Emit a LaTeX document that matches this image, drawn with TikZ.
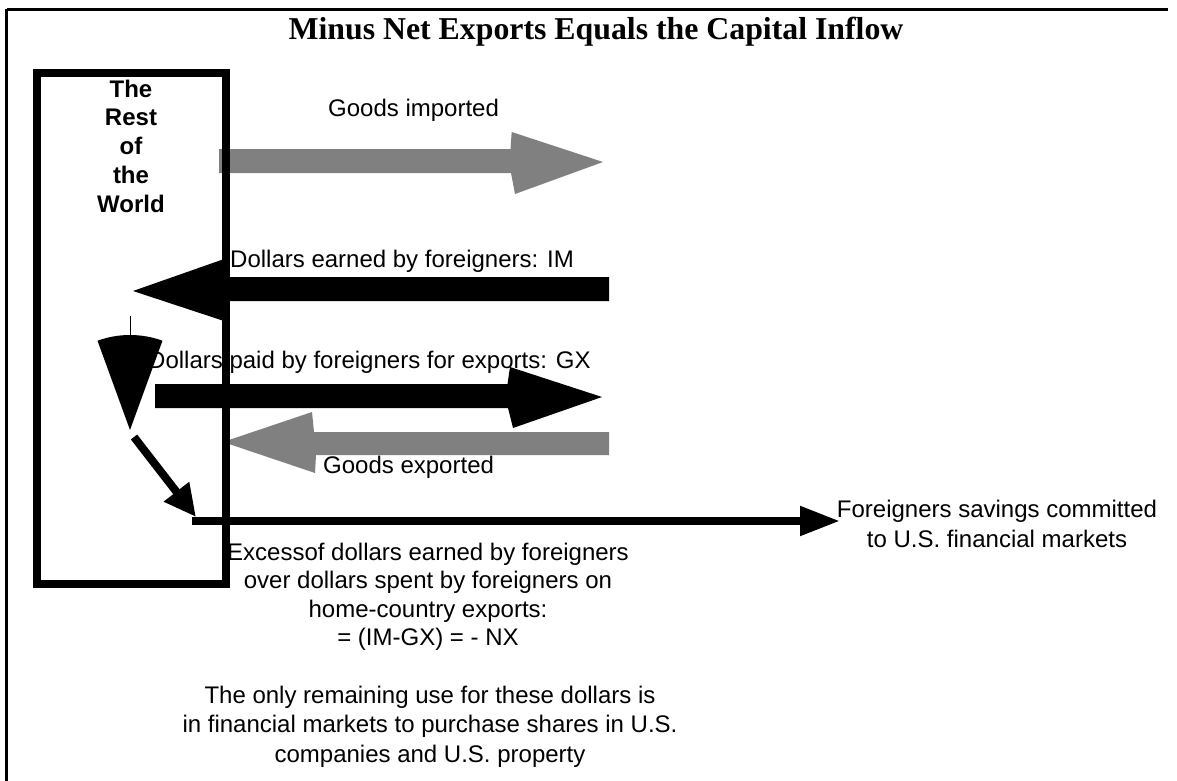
\documentclass[tikz,border=0pt]{standalone}
\usepackage{fontspec}
\setmainfont{Liberation Sans}
\newfontfamily\titlefont{Liberation Serif}
\usetikzlibrary{arrows.meta}
\definecolor{flowgrey}{HTML}{808080}
\tikzset{
  lbl/.style={inner sep=0pt, font=\fontsize{24}{28.8}\selectfont},
  blocklbl/.style={inner sep=0pt, align=center, anchor=base},
  goodsflow/.style={fill=flowgrey},
  moneyflow/.style={fill=black},
  frameline/.style={line width=3.5pt},
  boldline/.style={line width=8pt, draw=black},
}
\begin{document}
\begin{tikzpicture}[x=1pt,y=-1pt]
\useasboundingbox (0,0) rectangle (1177,781);
% outer frame (top and left edges)
\draw[frameline] (6.5,9.5) -- (1168,9.5);
\draw[frameline] (6.5,9.5) -- (6.5,781);
% title
\node[inner sep=0pt, anchor=base, font=\titlefont\bfseries\fontsize{31.8}{36}\selectfont] (title) at (596,40) {Minus Net Exports Equals the Capital Inflow};
% Goods imported (grey, to the right)
\fill[goodsflow] (219,149) -- (510.5,149) -- (511.7,132) -- (603,162) -- (515,194) -- (511,173) -- (219,173) -- cycle;
\node[lbl, anchor=base west] (gimp) at (328,117) {Goods imported};
% Dollars earned by foreigners: IM (black, to the left)
\fill[moneyflow] (609,277) -- (227,277) -- (227,258) -- (133,291) -- (227,322) -- (227,301) -- (609,301) -- cycle;
\node[lbl, anchor=base west] (dim) at (230,267) {Dollars earned by foreigners: IM};
% Dollars paid by foreigners for exports: GX (black, to the right)
\fill[moneyflow] (155,384) -- (507.5,384) -- (510,367) -- (602,397) -- (513,428) -- (508,408) -- (155,408) -- cycle;
\node[lbl, anchor=base west] (dgx) at (148,368) {Dollars paid by foreigners for exports: GX};
% Goods exported (grey, to the left)
\fill[goodsflow] (609,432) -- (314,432) -- (312,412) -- (223,442) -- (315,473) -- (316,455) -- (609,455) -- cycle;
\node[lbl, anchor=base west] (gexp) at (323,473) {Goods exported};
% funnel (sector) collecting the dollars
\fill[moneyflow] (130,430) -- ++(-110:95) arc[start angle=-110, end angle=-70, radius=95] -- cycle;
\draw[line width=1pt] (130,316) -- (130,336);
\coordinate (fapex) at (134,437);
\coordinate (corner) at (196,521);
\coordinate (capend) at (840,521);
\draw[line width=8pt, -{Triangle[length=32pt,width=30pt]}] (fapex) -- (196,517);
\draw[line width=8pt, -{Triangle[length=40pt,width=28pt]}] (192,521) -- (capend);
% texts (base anchor = baseline of the last line)
\node[lbl, blocklbl, font=\fontsize{24}{30}\selectfont] (fsav) at (997,547) {Foreigners savings committed\\to U.S. financial markets};
\node[lbl, blocklbl, font=\fontsize{24}{28.5}\selectfont] (excess) at (428,645.5) {Excessof dollars earned by foreigners\\over dollars spent by foreigners on\\home-country exports:\\= (IM-GX) = - NX};
\node[lbl, blocklbl, font=\fontsize{24}{29.5}\selectfont] (remain) at (430,762) {The only remaining use for these dollars is\\in financial markets to purchase shares in U.S.\\companies and U.S. property};
% The Rest of the World
\node[lbl, blocklbl, font=\bfseries\fontsize{24}{28.75}\selectfont] (rowtext) at (131,212) {The\\Rest\\of\\the\\World};
\node[boldline, minimum width=189pt, minimum height=511pt, inner sep=0pt] (row) at (131.5,328.5) {};
\end{tikzpicture}
\end{document}
